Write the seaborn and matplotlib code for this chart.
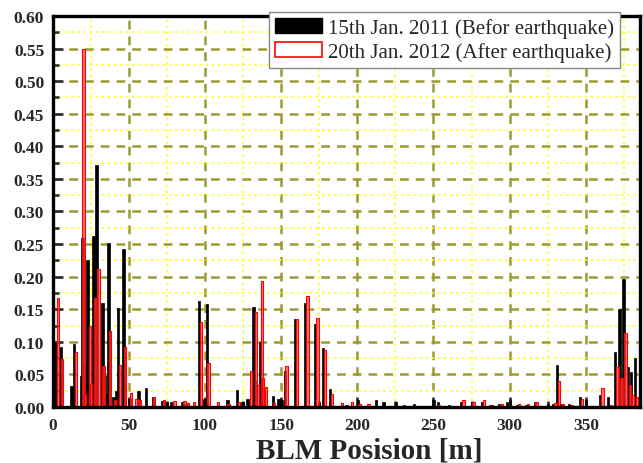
import numpy as np
import pandas as pd
import matplotlib
matplotlib.use("Agg")
import matplotlib.pyplot as plt
import seaborn as sns
from matplotlib.patches import Patch
from matplotlib.ticker import MultipleLocator

# BLM readings (position [m], loss)
pos_2011 = [2.0, 5.2, 12.6, 14.1, 18.7, 19.8, 21.7, 23.1, 25.8, 26.8, 29.0, 32.7,
            34.5, 35.8, 36.7, 40.0, 42.0, 43.0, 46.5, 50.4, 56.3, 61.2, 65.8, 72.3,
            75.0, 78.0, 85.4, 88.0, 96.3, 99.6, 101.2, 114.7, 120.9, 124.6, 127.9,
            131.9, 133.0, 136.2, 144.7, 148.3, 150.4, 152.4, 159.2, 165.8, 172.3,
            175.0, 177.4, 182.2, 193.0, 200.3, 212.3, 217.2, 225.4, 230.7, 237.3,
            250.0, 252.8, 260.3, 268.2, 275.2, 281.7, 287.0, 293.3, 298.1, 300.3,
            305.0, 311.0, 316.7, 325.0, 328.5, 331.0, 334.0, 339.0, 346.3, 350.2,
            359.4, 364.5, 369.2, 372.1, 374.7, 377.6, 379.7, 382.3]
loss_2011 = [0.098, 0.092, 0.032, 0.096, 0.048, 0.260, 0.068, 0.226, 0.012, 0.263, 0.372, 0.160,
             0.047, 0.020, 0.252, 0.016, 0.024, 0.152, 0.243, 0.012, 0.025, 0.029, 0.015, 0.009,
             0.007, 0.008, 0.007, 0.005, 0.162, 0.012, 0.158, 0.010, 0.026, 0.007, 0.012,
             0.154, 0.040, 0.100, 0.017, 0.013, 0.010, 0.055, 0.135, 0.160, 0.128,
             0.006, 0.090, 0.027, 0.003, 0.011, 0.010, 0.007, 0.007, 0.003, 0.005,
             0.010, 0.007, 0.003, 0.007, 0.007, 0.008, 0.003, 0.004, 0.007, 0.010,
             0.003, 0.003, 0.007, 0.005, 0.004, 0.065, 0.005, 0.004, 0.016, 0.011,
             0.018, 0.015, 0.084, 0.150, 0.196, 0.062, 0.053, 0.075]

pos_2012 = [3.5, 6.4, 15.4, 20.3, 21.3, 24.6, 25.4, 28.3, 30.3, 33.6, 37.8, 41.0,
            44.3, 47.6, 51.4, 55.0, 57.5, 66.7, 73.0, 80.0, 86.5, 88.5, 93.0, 97.5,
            102.5, 108.7, 115.5, 122.5, 130.1, 133.5, 135.0, 137.3, 138.3, 140.0,
            145.5, 153.6, 160.3, 167.3, 173.8, 178.7, 183.5, 189.8, 196.4, 201.5,
            207.4, 253.5, 269.7, 276.2, 283.2, 288.5, 294.5, 306.0, 312.0, 317.7,
            330.0, 332.5, 334.8, 340.5, 347.3, 361.0, 366.5, 370.8, 373.4, 376.0,
            378.8, 380.8, 383.6]
loss_2012 = [0.167, 0.074, 0.085, 0.550, 0.020, 0.124, 0.035, 0.168, 0.212, 0.063, 0.116, 0.010,
             0.064, 0.092, 0.021, 0.013, 0.011, 0.015, 0.010, 0.009, 0.009, 0.006, 0.007, 0.131,
             0.068, 0.008, 0.005, 0.008, 0.056, 0.146, 0.033, 0.194, 0.045, 0.031,
             0.006, 0.063, 0.135, 0.170, 0.137, 0.088, 0.020, 0.006, 0.007, 0.004,
             0.005, 0.003, 0.010, 0.008, 0.010, 0.003, 0.005, 0.004, 0.005, 0.007,
             0.006, 0.040, 0.005, 0.003, 0.012, 0.029, 0.003, 0.061, 0.044, 0.113,
             0.033, 0.018, 0.016]

label_2011 = "15th Jan. 2011 (Befor earthquake)"
label_2012 = "20th Jan. 2012 (After earthquake)"

df11 = pd.DataFrame({"pos": pos_2011, "loss": loss_2011})
df12 = pd.DataFrame({"pos": pos_2012, "loss": loss_2012})

sns.set_style("white")
plt.rcParams["font.family"] = ["Liberation Serif", "DejaVu Serif"]

fig = plt.figure(figsize=(6.43, 4.64), dpi=100)
ax = fig.add_axes([52.5 / 643, 1 - 408 / 464, 587.5 / 643, 391 / 464])

bar_w = 1.6
w11 = bar_w / np.diff(np.sort(df11["pos"])).min()
w12 = bar_w / np.diff(np.sort(df12["pos"])).min()

sns.barplot(data=df11, x="pos", y="loss", native_scale=True, orient="x",
            errorbar=None, width=w11, color="black", saturation=1,
            edgecolor="black", linewidth=0.5, ax=ax)
sns.barplot(data=df12, x="pos", y="loss", native_scale=True, orient="x",
            errorbar=None, width=w12, color=(1, 0.25, 0.25, 0.7), saturation=1,
            edgecolor="red", linewidth=0.8, ax=ax)

ax.set_xlim(0, 385.5)
ax.set_ylim(0, 0.6)
ax.xaxis.set_major_locator(MultipleLocator(50))
ax.xaxis.set_minor_locator(MultipleLocator(25))
ax.yaxis.set_major_locator(MultipleLocator(0.05))
ax.yaxis.set_minor_locator(MultipleLocator(0.025))
ax.yaxis.set_major_formatter(matplotlib.ticker.FormatStrFormatter("%.2f"))

ax.set_axisbelow(True)
ax.grid(which="major", color="#9c9a30", linewidth=1.8, linestyle=(0, (3.5, 2.8)))
ax.grid(which="minor", color="#ffff00", linewidth=1.1, linestyle=(0, (1.5, 2.5)))

for s in ax.spines.values():
    s.set_visible(True)
    s.set_linewidth(2.4)
    s.set_color("black")

ax.tick_params(which="major", direction="in", length=7, width=1.8, pad=6,
               labelsize=12.5, bottom=True, left=True)
ax.tick_params(which="minor", direction="in", length=4, width=1.8,
               bottom=True, left=True)
ax.tick_params(axis="x", which="major", pad=7)
for t in ax.get_xticklabels() + ax.get_yticklabels():
    t.set_fontweight("bold")

ax.set_ylabel("")
ax.set_xlabel("BLM Posision [m]", fontsize=21, fontweight="bold")
ax.xaxis.set_label_coords(0.539, -0.076)

handles = [Patch(facecolor="black", edgecolor="black", label=label_2011),
           Patch(facecolor="white", edgecolor="red", linewidth=1.2, label=label_2012)]
leg = ax.legend(handles=handles, loc="upper right", bbox_to_anchor=(0.966, 1.01),
                borderaxespad=0, fontsize=15, frameon=True, fancybox=False,
                framealpha=1, edgecolor="#888888", handlelength=2.25,
                handleheight=0.75, labelspacing=0.2, borderpad=0.28,
                handletextpad=0.3)
leg.get_frame().set_linewidth(1.0)
leg.set_zorder(10)

fig.savefig("out.png", dpi=100)
